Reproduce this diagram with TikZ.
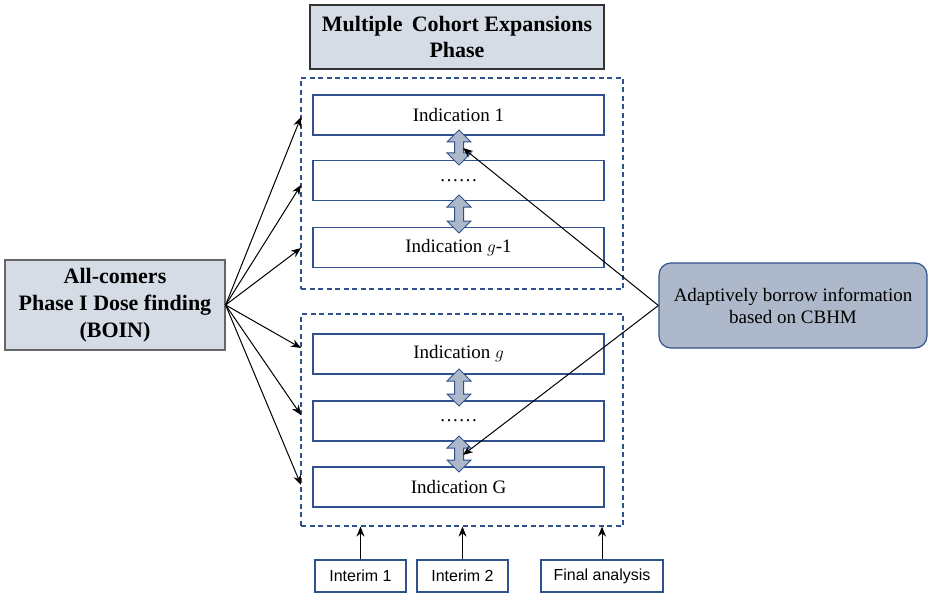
\documentclass[tikz,border=0pt]{standalone}
\usepackage{fontspec}
\setmainfont{Liberation Serif}
\newfontfamily\arialfont{Liberation Sans}
\usetikzlibrary{arrows.meta}
\definecolor{navy}{HTML}{2F528F}
\definecolor{paleblue}{HTML}{D6DCE5}
\definecolor{midblue}{HTML}{ADB9CA}
\tikzset{
  indbox/.style={draw=navy, line width=1.3pt, minimum width=291pt, minimum height=40pt, inner sep=0pt, font=\fontsize{19}{21}\selectfont},
  grpbox/.style={draw=navy, line width=1.2pt, dash pattern=on 5pt off 3.5pt, minimum width=322pt, inner sep=0pt},
  headbox/.style={draw=black!80, line width=1.2pt, fill=paleblue, inner sep=0pt, align=center, font=\bfseries\fontsize{22}{26}\selectfont},
  intbox/.style={draw=navy, line width=1.2pt, minimum height=32pt, inner sep=0pt, font=\arialfont\fontsize{16}{18}\selectfont},
  conn/.style={-{Stealth[length=10pt,width=8pt]}, line width=1pt, black},
  dbl/.style={draw=navy, line width=1pt, fill=midblue}
}
\newcommand\dblarr[3]{%
  \path[dbl] (#1,#2) -- ++(12,12) -- ++(-7.5,0) -- (#1+4.5,#3-12) -- ++(7.5,0) -- (#1,#3) -- ++(-12,-12) -- ++(7.5,0) -- (#1-4.5,#2+12) -- ++(-7.5,0) -- cycle;}
\begin{document}
\begin{tikzpicture}[x=1pt,y=-1pt]
\useasboundingbox (0,0) rectangle (931,596);
% title
\node[headbox, minimum width=294pt, minimum height=64pt] (title) at (457,37) {Multiple\, Cohort Expansions\\Phase};
% group boxes
\node[grpbox, minimum height=211pt] (grp1) at (462,183.5) {};
\node[grpbox, minimum height=212pt] (grp2) at (462,420) {};
% indications
\node[indbox] (i1) at (458.5,115) {Indication 1};
\node[indbox] (d1) at (458.5,180.5) {……};
\node[indbox] (ig1) at (458.5,247.5) {Indication $g$-1};
\node[indbox] (ig) at (458.5,354) {Indication $g$};
\node[indbox] (d2) at (458.5,421) {……};
\node[indbox] (iG) at (458.5,487) {Indication G};
% double arrows
\dblarr{459}{130}{165}
\dblarr{459}{195}{233}
\dblarr{459}{369}{406}
\dblarr{459}{436}{472}
% left box
\node[headbox, draw=black!60, minimum width=220pt, minimum height=90pt, font=\bfseries\fontsize{22}{27}\selectfont] (boin) at (115,305) {All-comers\\Phase I Dose finding\\(BOIN)};
% right box
\node[draw=navy, line width=1.2pt, fill=midblue, rounded corners=12pt, minimum width=268pt, minimum height=85pt, align=center, font=\fontsize{19}{22}\selectfont] (cbhm) at (793,305.5) {Adaptively borrow information\\based on CBHM};
% arrow targets
\coordinate (t1) at (301,117);
\coordinate (t2) at (301,185);
\coordinate (t3) at (301,248);
\coordinate (t4) at (301,348);
\coordinate (t5) at (301,415);
\coordinate (t6) at (301,485);
\foreach \t in {t1,t2,t3,t4,t5,t6} \draw[conn] (boin.east) -- (\t);
\coordinate (u1) at (463,148);
\coordinate (u2) at (463,455);
\draw[conn] (cbhm.west) -- (u1);
\draw[conn] (cbhm.west) -- (u2);
% interim boxes
\node[intbox, minimum width=91pt] (in1) at (360.5,576) {Interim 1};
\node[intbox, minimum width=91pt] (in2) at (462.5,576) {Interim 2};
\node[intbox, minimum width=122pt] (fa) at (602,576) {Final analysis};
\draw[conn] (in1.north) -- (in1.north |- grp2.south);
\draw[conn] (in2.north) -- (in2.north |- grp2.south);
\draw[conn] (fa.north) -- (fa.north |- grp2.south);
\end{tikzpicture}
\end{document}
